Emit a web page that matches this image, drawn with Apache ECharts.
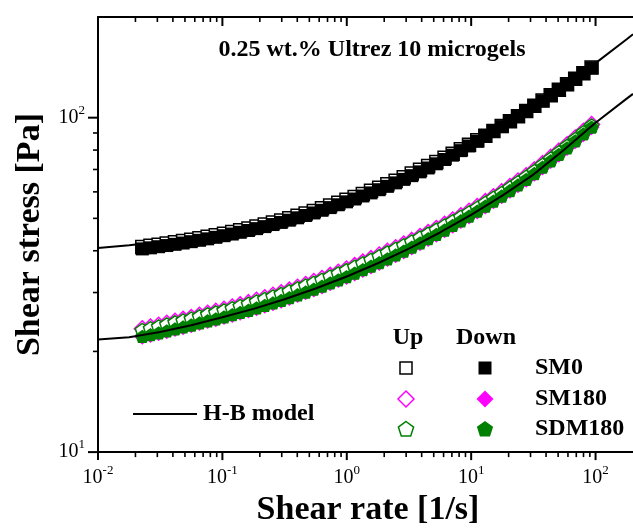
<!DOCTYPE html>
<html>
<head>
<meta charset="utf-8">
<script src="https://cdn.jsdelivr.net/npm/echarts@6/dist/echarts.min.js"></script>
<style>
  html, body { margin: 0; padding: 0; background: #fff; }
  #chart { width: 633px; height: 532px; }
</style>
</head>
<body>
<div id="chart"></div>
<script>
// Shear rate sweep [1/s]
const shearRate = [0.0227, 0.0264, 0.0307, 0.0357, 0.0416, 0.0483, 0.0562, 0.0654, 0.0761, 0.0885,
  0.103, 0.120, 0.139, 0.162, 0.188, 0.219, 0.255, 0.297, 0.345, 0.402,
  0.467, 0.543, 0.632, 0.735, 0.855, 0.995, 1.157, 1.346, 1.566, 1.822,
  2.12, 2.47, 2.87, 3.33, 3.88, 4.51, 5.25, 6.11, 7.10, 8.26,
  9.61, 11.2, 13.0, 15.1, 17.6, 20.5, 23.8, 27.7, 32.2, 37.5,
  43.6, 50.7, 59.0, 68.6, 79.8, 92.9];

// Shear stress [Pa], ramp up / ramp down
const sm0Up = [41.08, 41.38, 41.71, 42.04, 42.40, 42.78, 43.18, 43.60, 44.03, 44.50,
  45.00, 45.51, 46.06, 46.64, 47.24, 47.90, 48.59, 49.29, 50.07, 50.88,
  51.72, 52.62, 53.60, 54.60, 55.67, 56.81, 57.93, 59.14, 60.42, 61.76,
  63.20, 64.73, 66.32, 68.03, 69.85, 71.73, 73.73, 75.85, 78.07, 80.44,
  82.96, 85.59, 88.37, 91.31, 94.36, 97.62, 101.07, 104.67, 108.51, 112.53,
  116.70, 121.16, 125.86, 130.68, 135.86, 141.32];
const sm0Down = [40.51, 40.81, 41.13, 41.46, 41.81, 42.18, 42.58, 42.99, 43.42, 43.88,
  44.37, 44.88, 45.42, 45.99, 46.58, 47.23, 47.91, 48.61, 49.37, 50.18,
  51.00, 51.89, 52.85, 53.84, 54.90, 56.02, 57.12, 58.32, 59.58, 60.90,
  62.32, 63.83, 65.39, 67.08, 68.87, 70.73, 72.79, 74.97, 77.26, 79.70,
  82.30, 85.01, 87.88, 90.91, 94.06, 97.42, 100.87, 104.45, 108.29, 112.31,
  116.47, 120.92, 125.60, 130.43, 135.58, 141.03];
const sm180Up = [23.37, 23.65, 23.94, 24.27, 24.62, 24.94, 25.26, 25.65, 26.02, 26.37,
  26.73, 27.14, 27.56, 27.98, 28.44, 28.93, 29.43, 29.95, 30.50, 31.12,
  31.71, 32.35, 33.03, 33.76, 34.49, 35.27, 36.11, 36.99, 37.89, 38.83,
  39.86, 40.85, 41.87, 42.95, 44.14, 45.35, 46.61, 47.96, 49.41, 50.91,
  52.47, 54.22, 56.10, 58.02, 60.02, 62.27, 64.63, 67.07, 69.79, 72.86,
  76.06, 79.40, 82.98, 86.94, 91.10, 95.45];
const sm180Down = [22.14, 22.41, 22.67, 22.99, 23.32, 23.62, 23.94, 24.31, 24.65, 24.98,
  25.33, 25.71, 26.11, 26.51, 26.94, 27.41, 27.88, 28.37, 28.90, 29.48,
  30.05, 30.65, 31.30, 31.99, 32.68, 33.41, 34.21, 35.05, 35.90, 36.79,
  37.76, 38.78, 39.82, 40.93, 42.15, 43.38, 44.67, 46.06, 47.54, 49.08,
  50.68, 52.42, 54.29, 56.21, 58.20, 60.45, 62.79, 65.23, 67.95, 71.00,
  74.19, 77.52, 81.10, 85.06, 89.22, 93.56];
const sdm180Up = [23.18, 23.46, 23.75, 24.08, 24.42, 24.74, 25.06, 25.45, 25.81, 26.16,
  26.52, 26.92, 27.34, 27.76, 28.21, 28.70, 29.20, 29.71, 30.26, 30.87,
  31.46, 32.09, 32.77, 33.49, 34.22, 34.99, 35.82, 36.70, 37.59, 38.52,
  39.54, 40.53, 41.54, 42.61, 43.79, 44.99, 46.24, 47.58, 49.02, 50.51,
  52.05, 53.79, 55.65, 57.56, 59.54, 61.78, 64.12, 66.54, 69.24, 72.28,
  75.46, 78.77, 82.32, 86.25, 90.38, 94.69];
const sdm180Down = [22.18, 22.45, 22.72, 23.04, 23.37, 23.67, 23.99, 24.36, 24.70, 25.03,
  25.38, 25.76, 26.16, 26.56, 26.99, 27.46, 27.94, 28.43, 28.96, 29.54,
  30.11, 30.71, 31.36, 32.05, 32.75, 33.48, 34.28, 35.12, 35.97, 36.86,
  37.84, 38.86, 39.90, 41.01, 42.23, 43.47, 44.76, 46.15, 47.64, 49.18,
  50.78, 52.53, 54.40, 56.32, 58.32, 60.57, 62.92, 65.36, 68.09, 71.14,
  74.34, 77.68, 81.26, 85.23, 89.40, 93.75];

// Herschel-Bulkley model curves
const fitRate = [0.01, 0.0178, 0.0316, 0.0562, 0.1, 0.178, 0.316, 0.562, 1, 1.78,
  3.16, 5.62, 10, 17.8, 31.6, 56.2, 100, 178, 200];
const fitSM0 = [40.76, 41.57, 42.57, 43.82, 45.37, 47.31, 49.73, 52.74, 56.50, 61.18,
  67.02, 74.29, 83.35, 94.65, 108.2, 125.0, 145.6, 171.5, 177.5];
const fitSM180 = [21.70, 22.05, 22.85, 23.95, 25.30, 26.81, 28.64, 30.85, 33.50, 36.71,
  40.60, 45.36, 51.21, 58.47, 67.57, 80.3, 96.6, 114.0, 117.8];

// Axis ticks
const xMajor = [0.01, 0.1, 1, 10, 100];
const yMajor = [10, 100];
const xMinor = [0.02, 0.03, 0.04, 0.05, 0.06, 0.07, 0.08, 0.09,
  0.2, 0.3, 0.4, 0.5, 0.6, 0.7, 0.8, 0.9,
  2, 3, 4, 5, 6, 7, 8, 9,
  20, 30, 40, 50, 60, 70, 80, 90];
const yMinor = [20, 30, 40, 50, 60, 70, 80, 90];

const FONT = '"Liberation Serif", "Times New Roman", serif';
const GREEN = '#008000';
const MAGENTA = '#ff00ff';
const PENTAGON = 'path://M0,-10L9.511,-3.090L5.878,8.090L-5.878,8.090L-9.511,-3.090Z';

const chart = echarts.init(document.getElementById('chart'), null, { renderer: 'canvas' });

function powLabel(v) {
  const lg = Math.log10(v);
  const e = Math.round(lg);
  if (Math.abs(lg - e) > 1e-6) return '';
  return '{n|10}{s|' + e + '}';
}
const labelRich = {
  n: { fontSize: 20, lineHeight: 28, fontFamily: FONT, color: '#000' },
  s: { fontSize: 13, lineHeight: 13, verticalAlign: 'top', fontFamily: FONT, color: '#000' }
};

function pairs(xs, ys) { return xs.map((x, i) => [x, ys[i]]); }

const xTickData = xMajor.map(v => [v, 10, 1]).concat(xMinor.map(v => [v, 10, 0]));
const yTickData = yMajor.map(v => [0.01, v, 1]).concat(yMinor.map(v => [0.01, v, 0]));

function renderXTick(params, api) {
  const cs = params.coordSys;
  const major = api.value(2) === 1;
  const px = api.coord([api.value(0), 10])[0];
  const bottom = cs.y + cs.height;
  const top = cs.y;
  const lw = major ? 2 : 1.6;
  return {
    type: 'group',
    children: [
      { type: 'line', shape: { x1: px, y1: bottom, x2: px, y2: bottom + (major ? 8 : 5) },
        style: { stroke: '#000', lineWidth: lw } },
      { type: 'line', shape: { x1: px, y1: top, x2: px, y2: top + (major ? 9 : 5) },
        style: { stroke: '#000', lineWidth: lw } }
    ]
  };
}
function renderYTick(params, api) {
  const cs = params.coordSys;
  const major = api.value(2) === 1;
  const py = api.coord([0.01, api.value(1)])[1];
  return {
    type: 'line',
    shape: { x1: cs.x, y1: py, x2: cs.x - (major ? 10 : 5), y2: py },
    style: { stroke: '#000', lineWidth: major ? 2 : 1.6 }
  };
}

const axisLine = { show: true, onZero: false, lineStyle: { color: '#000', width: 2 } };

// Hollow "up" markers sit underneath the filled "down" markers of the same sample
function scatter(name, ys, symbol, size, filled, color, z) {
  return {
    name: name, type: 'scatter', data: pairs(shearRate, ys),
    symbol: symbol, symbolSize: size, symbolKeepAspect: true,
    itemStyle: filled
      ? { color: color, borderWidth: 0, opacity: 1 }
      : { color: '#fff', borderColor: color, borderWidth: 1.5, opacity: 1 },
    z: z, silent: true
  };
}

function pentagonPoints(cx, cy, r) {
  const pts = [];
  for (let k = 0; k < 5; k++) {
    const a = -Math.PI / 2 + k * 2 * Math.PI / 5;
    pts.push([cx + r * Math.cos(a), cy + r * Math.sin(a)]);
  }
  return pts;
}

const boldFont = 'bold 24px ' + FONT;
function gText(text, x, y, align) {
  return { type: 'text', x: x, y: y, silent: true,
    style: { text: text, font: boldFont, fill: '#000', textAlign: align, textVerticalAlign: 'middle' } };
}
const rows = [368, 399, 429];
const colUp = 406, colDown = 485;

const graphic = [
  gText('0.25 wt.% Ultrez 10 microgels', 372, 50, 'center'),
  gText('Up', 408, 338, 'center'),
  gText('Down', 486, 338, 'center'),
  gText('SM0', 535, rows[0], 'left'),
  gText('SM180', 535, rows[1], 'left'),
  gText('SDM180', 535, rows[2], 'left'),
  { type: 'rect', silent: true, shape: { x: colUp - 6, y: rows[0] - 6, width: 12, height: 12 },
    style: { fill: '#fff', stroke: '#000', lineWidth: 1.5 } },
  { type: 'rect', silent: true, shape: { x: colDown - 6.5, y: rows[0] - 6.5, width: 13, height: 13 },
    style: { fill: '#000' } },
  { type: 'polygon', silent: true,
    shape: { points: [[colUp, rows[1] - 8], [colUp + 8, rows[1]], [colUp, rows[1] + 8], [colUp - 8, rows[1]]] },
    style: { fill: '#fff', stroke: MAGENTA, lineWidth: 1.5 } },
  { type: 'polygon', silent: true,
    shape: { points: [[colDown, rows[1] - 8.5], [colDown + 8.5, rows[1]], [colDown, rows[1] + 8.5], [colDown - 8.5, rows[1]]] },
    style: { fill: MAGENTA } },
  { type: 'polygon', silent: true, shape: { points: pentagonPoints(colUp, rows[2] + 0.5, 8) },
    style: { fill: '#fff', stroke: GREEN, lineWidth: 1.5 } },
  { type: 'polygon', silent: true, shape: { points: pentagonPoints(colDown, rows[2] + 0.5, 8.5) },
    style: { fill: GREEN } },
  { type: 'line', silent: true, shape: { x1: 133, y1: 414, x2: 197, y2: 414 },
    style: { stroke: '#000', lineWidth: 2 } },
  gText('H-B model', 203, 414, 'left')
];

const option = {
  animation: false,
  backgroundColor: '#fff',
  textStyle: { fontFamily: FONT },
  grid: { left: 98, top: 17, right: -10, bottom: 77 },
  xAxis: [
    {
      type: 'log', logBase: 10, min: 0.01, max: 200, position: 'bottom',
      axisLine: axisLine, axisTick: { show: false }, splitLine: { show: false },
      axisLabel: { margin: 12, formatter: powLabel, rich: labelRich, showMaxLabel: false },
      name: 'Shear rate [1/s]', nameLocation: 'middle', nameGap: 34,
      nameTextStyle: { fontSize: 34, fontWeight: 'bold', color: '#000', fontFamily: FONT, padding: [0, 0, 0, 5] }
    },
    {
      type: 'log', logBase: 10, min: 0.01, max: 200, position: 'top',
      axisLine: axisLine, axisTick: { show: false }, splitLine: { show: false },
      axisLabel: { show: false }
    }
  ],
  yAxis: [
    {
      type: 'log', logBase: 10, min: 10, max: 200,
      axisLine: axisLine, axisTick: { show: false }, splitLine: { show: false },
      axisLabel: { margin: 13, formatter: powLabel, rich: labelRich, showMaxLabel: false },
      name: 'Shear stress [Pa]', nameLocation: 'middle', nameGap: 50, nameRotate: 90,
      nameTextStyle: { fontSize: 34, fontWeight: 'bold', color: '#000', fontFamily: FONT }
    }
  ],
  series: [
    scatter('SM0 up', sm0Up, 'rect', 13, false, '#000', 2),
    scatter('SM0 down', sm0Down, 'rect', 13, true, '#000', 3),
    scatter('SM180 up', sm180Up, 'diamond', 16, false, MAGENTA, 2),
    scatter('SM180 down', sm180Down, 'diamond', 16, true, MAGENTA, 3),
    scatter('SDM180 up', sdm180Up, PENTAGON, 14, false, GREEN, 4),
    scatter('SDM180 down', sdm180Down, PENTAGON, 14, true, GREEN, 5),
    {
      name: 'H-B SM0', type: 'line', data: pairs(fitRate, fitSM0), showSymbol: false, symbol: 'none',
      lineStyle: { color: '#000', width: 2 }, z: 6, silent: true
    },
    {
      name: 'H-B SM180', type: 'line', data: pairs(fitRate, fitSM180), showSymbol: false, symbol: 'none',
      lineStyle: { color: '#000', width: 2 }, z: 6, silent: true
    },
    { type: 'custom', data: xTickData, renderItem: renderXTick, z: 10, silent: true, clip: false },
    { type: 'custom', data: yTickData, renderItem: renderYTick, z: 10, silent: true, clip: false }
  ],
  graphic: graphic
};

chart.setOption(option);
</script>
</body>
</html>
